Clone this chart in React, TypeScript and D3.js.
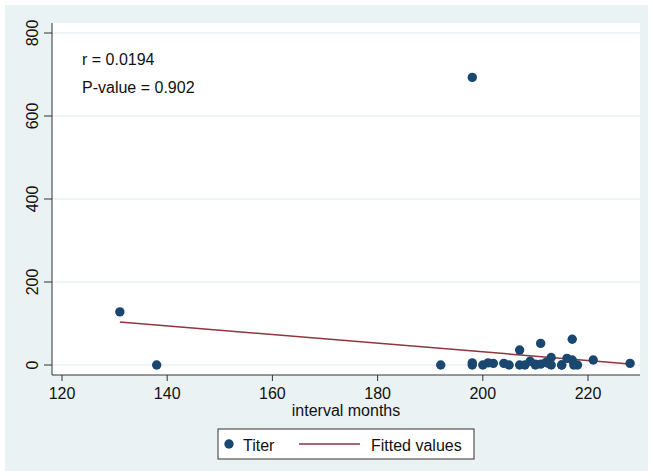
import React from 'react'
import * as d3 from 'd3'

// interval months vs titer
const intervalMonths = [
  131, 138, 192, 198, 198, 198, 200, 201, 202, 204, 205, 207, 207, 208, 209,
  210, 210, 211, 211, 212, 212.5, 213, 213, 215, 215, 216, 217, 217, 217.3,
  218, 221, 228,
];
const titer = [
  128, 0, 0, 693, 5, 0, 0, 5, 4, 4, 0, 36, 0, 0, 9,
  2, 0, 52, 2, 6, 4, 18, 0, 0, 0, 16, 62, 12, 0,
  0, 12, 4,
];
const fitX = [131, 228];
const fitY = [103.5, 2.5];

const xTicks = [120, 140, 160, 180, 200, 220];
const yTicks = [0, 200, 400, 600, 800];

const W = 653;
const H = 476;
const plot = { left: 52, right: 640, top: 23, bottom: 375 };

const xScale = d3.scaleLinear().domain([120, 220]).range([62, 588]);
const yScale = d3.scaleLinear().domain([0, 800]).range([365, 33]);

const font = '"Liberation Sans", Arial, sans-serif';
const navy = '#1a476f';
const maroon = '#90353b';
const axisColor = '#333';

const line = d3.line<number>()
  .x((d, i) => xScale(fitX[i]))
  .y((d) => yScale(d));

const App = () => (
  <svg
    width={W}
    height={H}
    style={{ position: 'absolute', left: 0, top: 0 }}
    fontFamily={font}
  >
    <rect x={0} y={0} width={W} height={H} fill='#fff' />
    <rect x={5} y={5} width={W - 10} height={H - 10} fill='#eaf2f3' />
    <rect
      x={plot.left}
      y={plot.top}
      width={plot.right - plot.left}
      height={plot.bottom - plot.top}
      fill='#fff'
    />

    {yTicks.map((t) => (
      <line
        key={'g' + t}
        x1={plot.left}
        x2={plot.right}
        y1={yScale(t)}
        y2={yScale(t)}
        stroke='#eaf2f3'
        strokeWidth={1.5}
      />
    ))}

    {/* axes */}
    <line x1={plot.left} x2={plot.left} y1={plot.top} y2={plot.bottom} stroke={axisColor} />
    <line x1={plot.left} x2={plot.right} y1={plot.bottom} y2={plot.bottom} stroke={axisColor} />

    {yTicks.map((t) => (
      <g key={'y' + t}>
        <line x1={plot.left - 8} x2={plot.left} y1={yScale(t)} y2={yScale(t)} stroke={axisColor} />
        <text
          transform={`translate(32,${yScale(t)}) rotate(-90)`}
          textAnchor='middle'
          dy='0.35em'
          fontSize={16}
          fill='#111'
        >
          {t}
        </text>
      </g>
    ))}

    {xTicks.map((t) => (
      <g key={'x' + t}>
        <line x1={xScale(t)} x2={xScale(t)} y1={plot.bottom} y2={plot.bottom + 6} stroke={axisColor} />
        <text x={xScale(t)} y={393} textAnchor='middle' dy='0.35em' fontSize={16} fill='#111'>
          {t}
        </text>
      </g>
    ))}

    <text x={(plot.left + plot.right) / 2} y={410} textAnchor='middle' dy='0.35em' fontSize={16} fill='#111'>
      interval months
    </text>

    <path d={line(fitY) || ''} fill='none' stroke={maroon} strokeWidth={1.5} />

    {intervalMonths.map((m, i) => (
      <circle key={i} cx={xScale(m)} cy={yScale(titer[i])} r={4.7} fill={navy} />
    ))}

    <text x={82} y={59} dy='0.35em' fontSize={16} fill='#111'>r = 0.0194</text>
    <text x={82} y={87} dy='0.35em' fontSize={16} fill='#111'>P-value = 0.902</text>

    {/* legend */}
    <rect x={218} y={429} width={256} height={30} fill='#fff' stroke={axisColor} />
    <circle cx={229} cy={444} r={4.7} fill={navy} />
    <text x={243} y={445} dy='0.35em' fontSize={16} fill='#111'>Titer</text>
    <line x1={299} x2={360} y1={444} y2={444} stroke={maroon} strokeWidth={1.5} />
    <text x={371} y={445} dy='0.35em' fontSize={16} fill='#111'>Fitted values</text>
  </svg>
);

export default App
